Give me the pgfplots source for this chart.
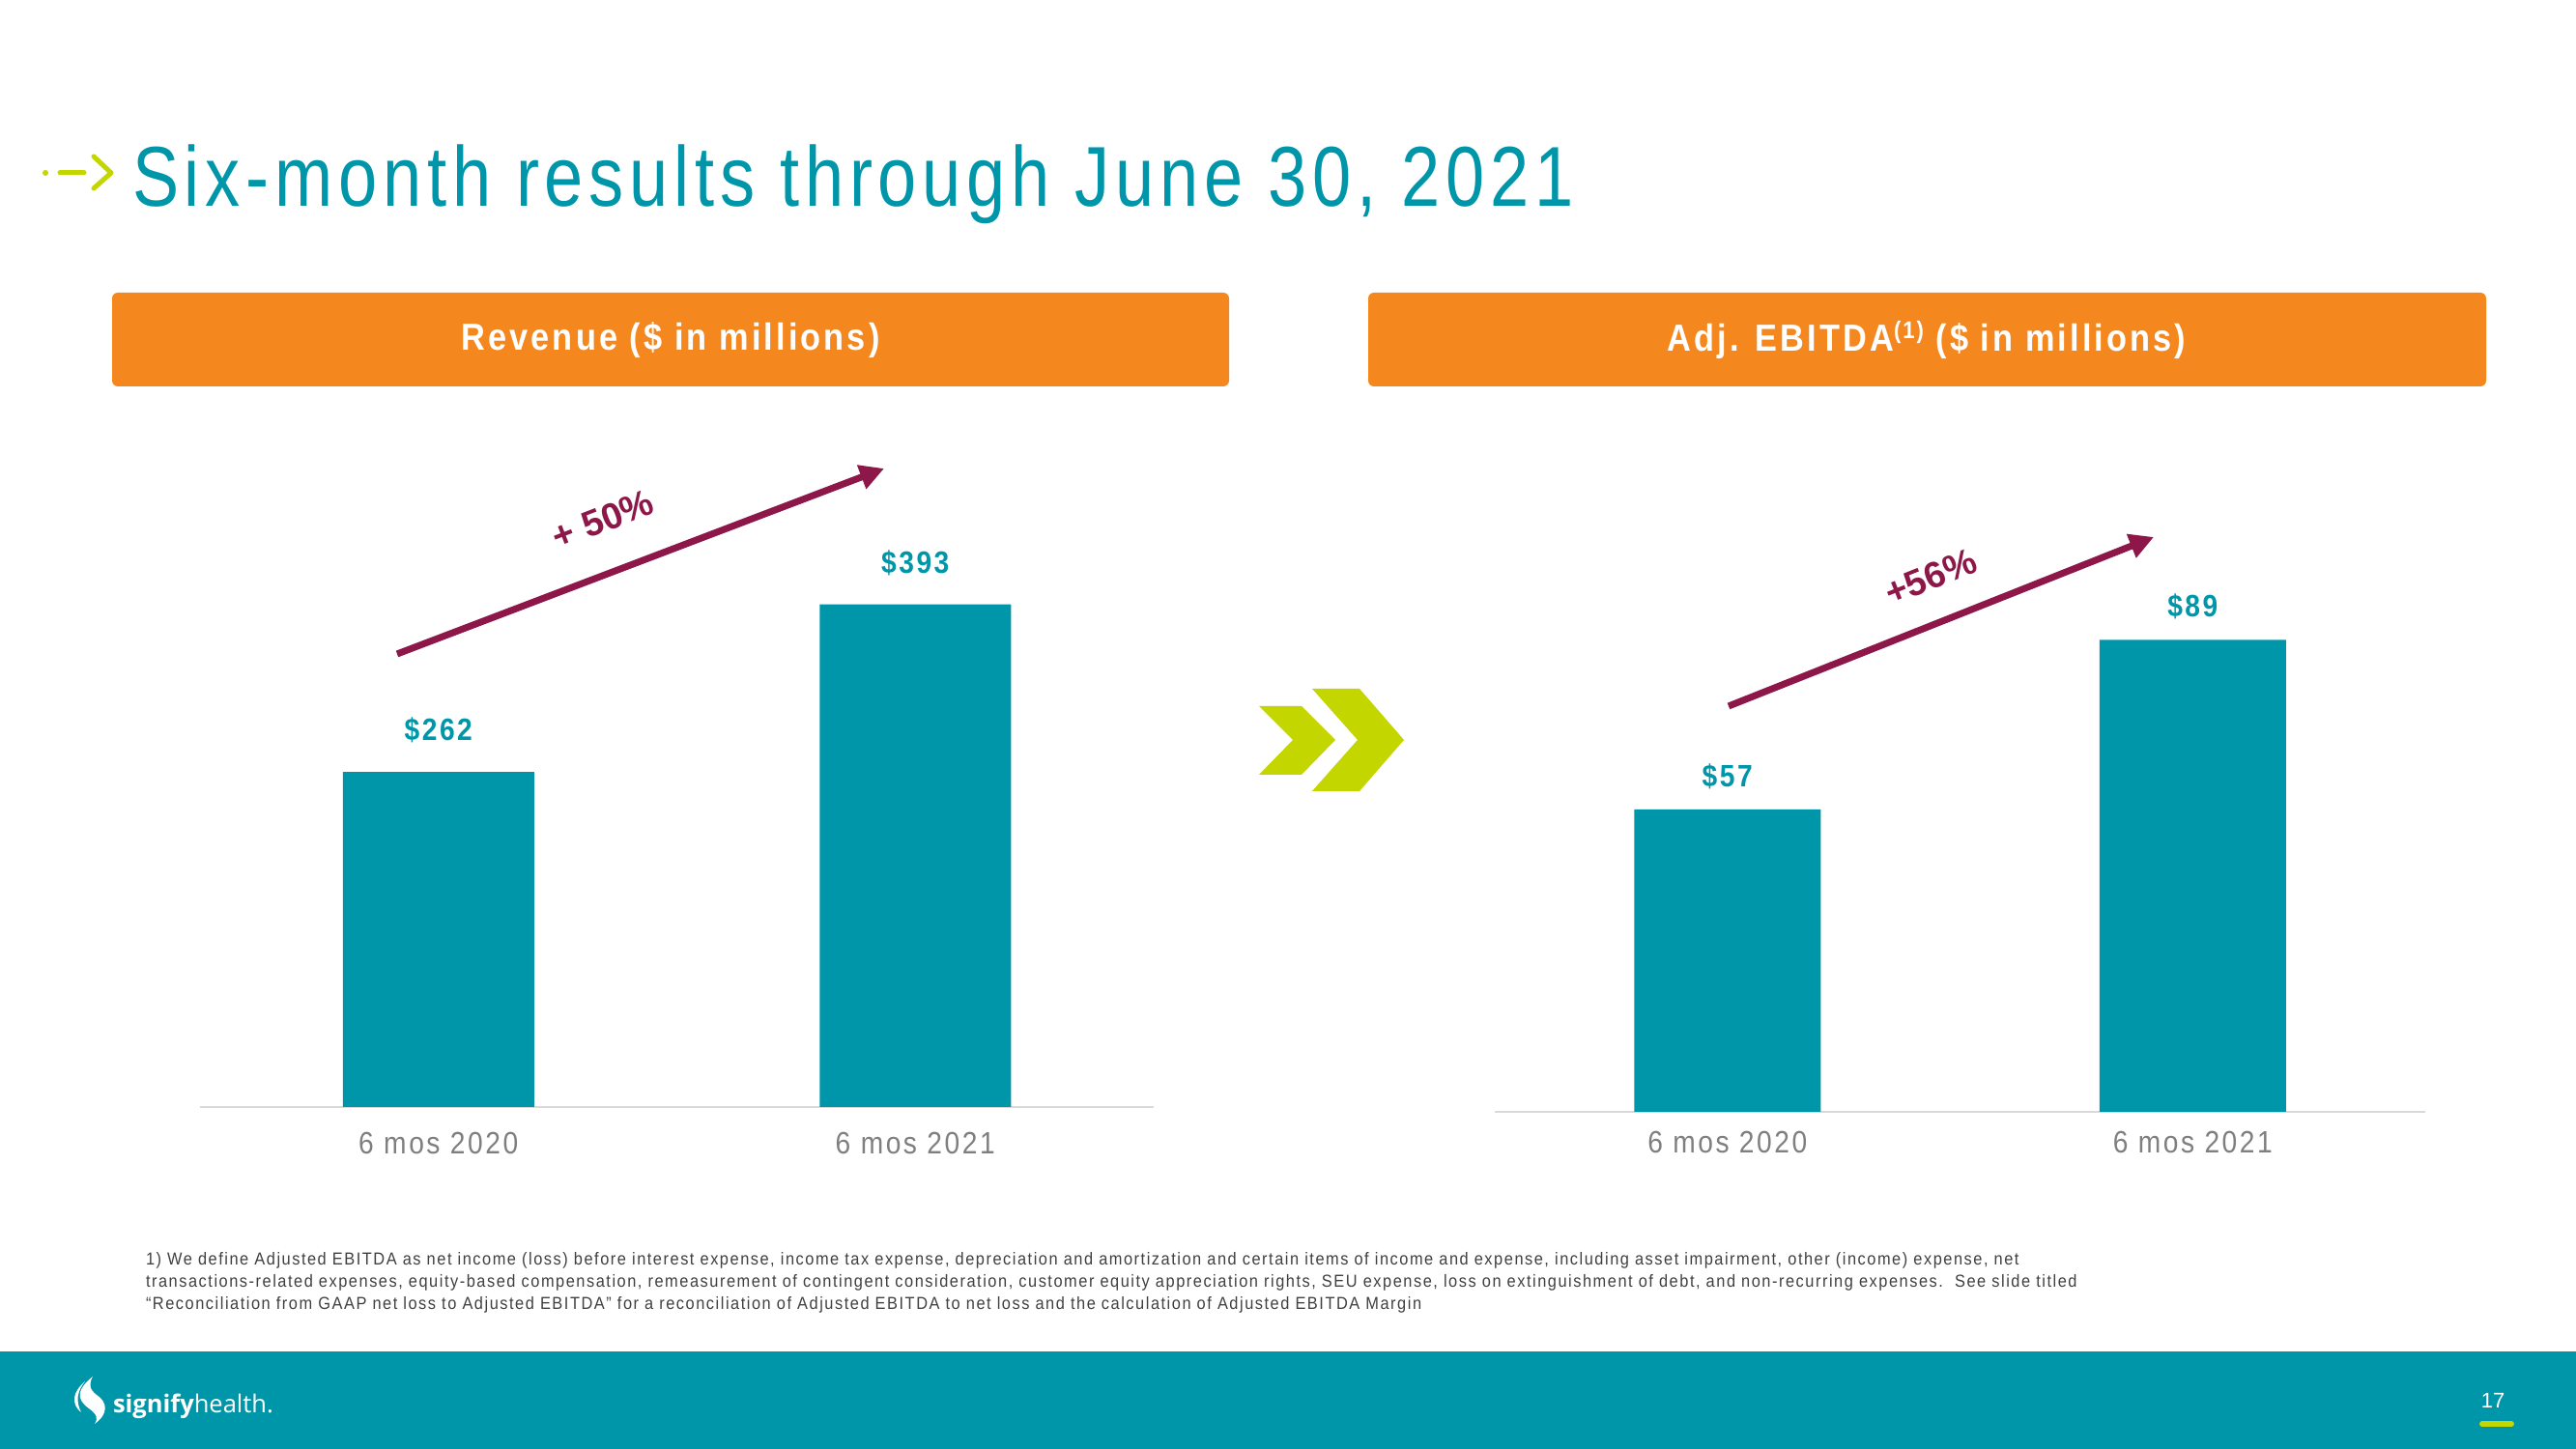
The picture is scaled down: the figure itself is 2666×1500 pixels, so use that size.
\documentclass[border=0pt]{standalone}
\usepackage{pgfplots}
\pgfplotsset{compat=1.18}
\usepackage{fontspec}
\setmainfont{Liberation Sans}
\usetikzlibrary{arrows.meta}
\definecolor{sgteal}{HTML}{0096A9}
\definecolor{sgorange}{HTML}{F5871F}
\definecolor{sgmaroon}{HTML}{8C1748}
\definecolor{sglime}{HTML}{C4D600}
\definecolor{sggray}{HTML}{7F7F7F}
\definecolor{sgnote}{HTML}{404040}
\newfontfamily\titlef[LetterSpace=6.6,FakeStretch=0.82]{Liberation Sans}
\newfontfamily\condf[LetterSpace=8,FakeStretch=0.88]{Liberation Sans}
\newfontfamily\notef[LetterSpace=8.5,FakeStretch=0.91]{Liberation Sans}
\newfontfamily\logof{Open Sans}
\pgfplotstableread{
x val
0 262
1 393
}\revtable
\pgfplotstableread{
x val
0 57
1 89
}\ebitdatable
\begin{document}
\begin{tikzpicture}[x=0.2pt,y=0.2pt]
% page
\fill[white] (0,0) rectangle (2666,1500);
% footer band
\fill[sgteal] (0,0) rectangle (2666,101);
% title icon
\fill[sglime] (47,1321) circle (3);
\draw[sglime,line width=1pt,line cap=round] (62,1321) -- (87,1321);
\draw[sglime,line width=1pt,line cap=round,line join=round] (97,1338) -- (115,1321) -- (97,1305);
% title
\node[anchor=base west,inner sep=0pt,text=sgteal,font=\titlef\fontsize{17.6}{20}\selectfont] at (136,1286) {Six-month results through June 30, 2021};
% header boxes
\fill[sgorange,rounded corners=1.2pt] (116,1100) rectangle (1272,1197);
\fill[sgorange,rounded corners=1.2pt] (1416,1100) rectangle (2573,1197);
\node[text=white,font=\condf\bfseries\fontsize{7.8}{9}\selectfont] at (694,1148) {Revenue (\$ in millions)};
\node[text=white,font=\condf\bfseries\fontsize{7.8}{9}\selectfont] at (1994,1148) {Adj. EBITDA\raisebox{0.35em}{\fontsize{5}{6}\selectfont (1)} (\$ in millions)};
% left chart
\begin{axis}[
  at={(41.4pt,70.8pt)}, anchor=south west,
  scale only axis, width=197.4pt, height=132.4pt,
  xmin=-0.5, xmax=1.5, ymin=0, ymax=500,
  axis x line=bottom, axis y line=none,
  x axis line style={-, draw=black!15, line width=0.5pt},
  xtick=data, xticklabels={6 mos 2020, 6 mos 2021},
  xtick style={draw=none},
  xticklabel style={anchor=center, yshift=-3.2pt, text=sggray, font=\condf\fontsize{6.4}{7}\selectfont},
  ybar, bar width=39.6pt,
  nodes near coords={\$\pgfmathprintnumber[assume math mode=true]{\pgfplotspointmeta}},
  every node near coord/.append style={anchor=center, yshift=8.6pt, text=sgteal, font=\condf\bfseries\fontsize{6.4}{7}\selectfont},
  clip=false,
]
\addplot[fill=sgteal, draw=none] table[x=x,y=val] {\revtable};
\end{axis}
% right chart
\begin{axis}[
  at={(309.4pt,69.8pt)}, anchor=south west,
  scale only axis, width=192.6pt, height=120.8pt,
  xmin=-0.5, xmax=1.5, ymin=0, ymax=110,
  axis x line=bottom, axis y line=none,
  x axis line style={-, draw=black!15, line width=0.5pt},
  xtick=data, xticklabels={6 mos 2020, 6 mos 2021},
  xtick style={draw=none},
  xticklabel style={anchor=center, yshift=-2pt, text=sggray, font=\condf\fontsize{6.4}{7}\selectfont},
  ybar, bar width=38.6pt,
  nodes near coords={\$\pgfmathprintnumber[assume math mode=true]{\pgfplotspointmeta}},
  every node near coord/.append style={anchor=center, yshift=6.8pt, text=sgteal, font=\condf\bfseries\fontsize{6.4}{7}\selectfont},
  clip=false,
]
\addplot[fill=sgteal, draw=none] table[x=x,y=val] {\ebitdatable};
\end{axis}
% growth arrows
\draw[sgmaroon, line width=1.4pt, -{Triangle[length=5pt,width=5pt]}] (411,823) -- (915,1015);
\node[rotate=21, text=sgmaroon, font=\bfseries\fontsize{7.6}{9}\selectfont] at (624,962) {+ 50\%};
\draw[sgmaroon, line width=1.4pt, -{Triangle[length=5pt,width=5pt]}] (1789,769) -- (2229,944);
\node[rotate=21.7, text=sgmaroon, font=\bfseries\fontsize{7.6}{9}\selectfont] at (1998,903) {+56\%};
% chevrons
\fill[sglime] (1303,769) -- (1347,769) -- (1382,734) -- (1347,698) -- (1303,698) -- (1338,734) -- cycle;
\fill[sglime] (1358,787) -- (1407,787) -- (1453,734) -- (1407,681) -- (1358,681) -- (1405,734) -- cycle;
% footnote
\begin{scope}[every node/.style={anchor=base west, inner sep=0pt, text=sgnote, font=\notef\fontsize{3.6}{4}\selectfont}]
\node at (150,190) {1) We define Adjusted EBITDA as net income (loss) before interest expense, income tax expense, depreciation and amortization and certain items of income and expense, including asset impairment, other (income) expense, net};
\node at (150,167) {transactions-related expenses, equity-based compensation, remeasurement of contingent consideration, customer equity appreciation rights, SEU expense, loss on extinguishment of debt, and non-recurring expenses.\ \ See slide titled};
\node at (150,144) {“Reconciliation from GAAP net loss to Adjusted EBITDA” for a reconciliation of Adjusted EBITDA to net loss and the calculation of Adjusted EBITDA Margin};
\end{scope}
% logo
\fill[white] (96,75) .. controls (80,62) and (78,52) .. (92,42) .. controls (100,36) and (102,32) .. (98,26) .. controls (112,36) and (112,48) .. (100,56) .. controls (92,62) and (92,68) .. (96,75) -- cycle;
\fill[white] (88,70) .. controls (74,58) and (74,46) .. (84,38) .. controls (78,50) and (80,60) .. (88,70) -- cycle;
\node[anchor=base west, inner sep=0pt, text=white, font=\logof\fontsize{5.1}{6}\selectfont] at (116,37) {\textbf{signify}health.};
% page number
\node[text=white, font=\fontsize{4.4}{5}\selectfont] at (2580,50) {17};
\draw[sglime, line width=1.2pt, line cap=round] (2569,26) -- (2599,26);
\end{tikzpicture}
\end{document}
